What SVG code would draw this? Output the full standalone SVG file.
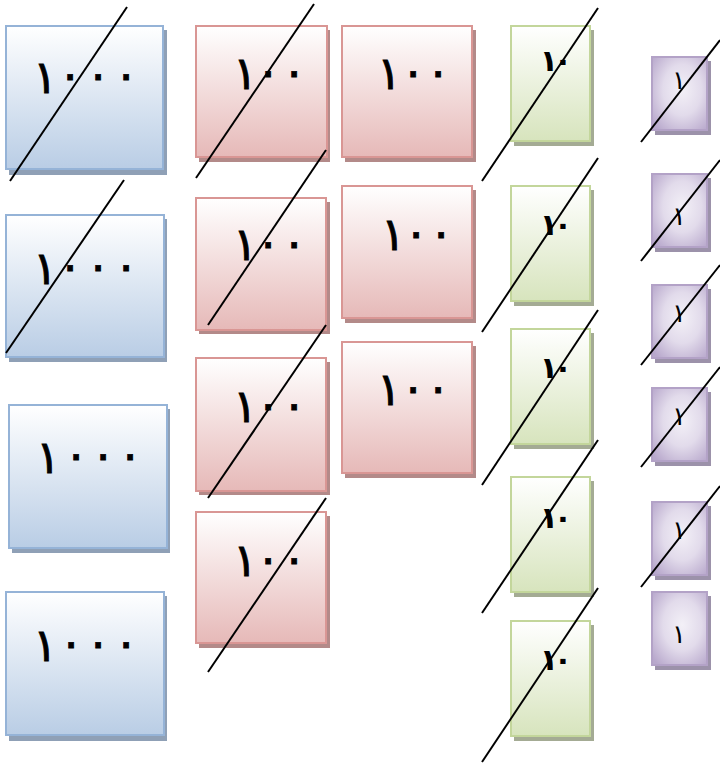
<svg xmlns="http://www.w3.org/2000/svg" width="720" height="765" viewBox="0 0 720 765">
<defs>
<linearGradient id="gB" x1="0" y1="0" x2="0" y2="1"><stop offset="0" stop-color="#ffffff"/><stop offset="1" stop-color="#b9cde5"/></linearGradient>
<linearGradient id="gR" x1="0" y1="0" x2="0" y2="1"><stop offset="0" stop-color="#ffffff"/><stop offset="1" stop-color="#e6b9b8"/></linearGradient>
<linearGradient id="gG" x1="0" y1="0" x2="0" y2="1"><stop offset="0" stop-color="#ffffff"/><stop offset="1" stop-color="#d7e4bd"/></linearGradient>
<radialGradient id="gP" cx="0.55" cy="0.45" r="0.7"><stop offset="0" stop-color="#f3f0f7"/><stop offset="0.5" stop-color="#e2dbeb"/><stop offset="1" stop-color="#b8a8cc"/></radialGradient>
</defs>
<style>
.b{fill:url(#gB);stroke:#95b3d7;stroke-width:2}
.bs{fill:#8fa0b6}
.r{fill:url(#gR);stroke:#d99694;stroke-width:2}
.rs{fill:#b38a89}
.g{fill:url(#gG);stroke:#c3d69b;stroke-width:2}
.gs{fill:#a4ab94}
.p{fill:url(#gP);stroke:#b3a2c7;stroke-width:2}
.ps{fill:#9c92aa}
text{font-family:"DejaVu Sans",sans-serif;fill:#000;text-anchor:middle}
.tb,.tr{font-size:46px;stroke:#000;stroke-width:0.8}
.tg{font-size:30px;font-weight:bold}
.tp{font-size:26px}
.s{stroke:#000;stroke-width:2;fill:none}
</style>
<g id="blue1"><rect class="bs" x="9" y="30" width="158" height="145"/><rect class="b" x="6" y="26" width="157" height="143"/><text class="tb" x="45 70 98 126" y="93 90 90 90">١٠٠٠</text></g>
<g id="blue2"><rect class="bs" x="9" y="219" width="158" height="143"/><rect class="b" x="6" y="215" width="158" height="142"/><text class="tb" x="45 70 98 126" y="284 281 281 281">١٠٠٠</text></g>
<g id="blue3"><rect class="bs" x="12" y="409" width="158" height="144"/><rect class="b" x="9" y="405" width="158" height="143"/><text class="tb" x="48 76 103 130" y="473 470 470 470">١٠٠٠</text></g>
<g id="blue4"><rect class="bs" x="9" y="596" width="158" height="145"/><rect class="b" x="6" y="592" width="158" height="143"/><text class="tb" x="45 71 98 126" y="661 658 658 658">١٠٠٠</text></g>
<g id="red1"><rect class="rs" x="199" y="30" width="131" height="132"/><rect class="r" x="196" y="26" width="131" height="131"/><text class="tr" x="245 268 294" y="89 87 87">١٠٠</text></g>
<g id="red2"><rect class="rs" x="199" y="202" width="131" height="132"/><rect class="r" x="196" y="198" width="130" height="132"/><text class="tr" x="245 268 294" y="260 258 258">١٠٠</text></g>
<g id="red3"><rect class="rs" x="199" y="362" width="131" height="133"/><rect class="r" x="196" y="358" width="130" height="133"/><text class="tr" x="245 268 294" y="422 420 420">١٠٠</text></g>
<g id="red4"><rect class="rs" x="199" y="516" width="131" height="132"/><rect class="r" x="196" y="512" width="130" height="131"/><text class="tr" x="245 268 294" y="576 574 574">١٠٠</text></g>
<g id="red5"><rect class="rs" x="345" y="30" width="131" height="132"/><rect class="r" x="342" y="26" width="130" height="131"/><text class="tr" x="389 413 438" y="89 87 87">١٠٠</text></g>
<g id="red6"><rect class="rs" x="345" y="190" width="131" height="133"/><rect class="r" x="342" y="186" width="130" height="132"/><text class="tr" x="393 416 441" y="250 248 248">١٠٠</text></g>
<g id="red7"><rect class="rs" x="345" y="346" width="131" height="132"/><rect class="r" x="342" y="342" width="130" height="131"/><text class="tr" x="389 413 438" y="405 403 403">١٠٠</text></g>
<g id="green1"><rect class="gs" x="514" y="30" width="80" height="116"/><rect class="g" x="511" y="26" width="79" height="115"/><text class="tg" x="549 563" y="71">١٠</text></g>
<g id="green2"><rect class="gs" x="514" y="190" width="80" height="116"/><rect class="g" x="511" y="186" width="79" height="115"/><text class="tg" x="549 563" y="235">١٠</text></g>
<g id="green3"><rect class="gs" x="514" y="333" width="80" height="116"/><rect class="g" x="511" y="329" width="79" height="115"/><text class="tg" x="549 563" y="378">١٠</text></g>
<g id="green4"><rect class="gs" x="514" y="481" width="80" height="116"/><rect class="g" x="511" y="477" width="79" height="115"/><text class="tg" x="549 563" y="528">١٠</text></g>
<g id="green5"><rect class="gs" x="514" y="625" width="80" height="116"/><rect class="g" x="511" y="621" width="79" height="115"/><text class="tg" x="549 563" y="670">١٠</text></g>
<g id="purple1"><rect class="ps" x="655" y="61" width="56" height="74"/><rect class="p" x="652" y="57" width="55" height="73"/><text class="tp" x="679" y="89">١</text></g>
<g id="purple2"><rect class="ps" x="655" y="178" width="56" height="74"/><rect class="p" x="652" y="174" width="55" height="73"/><text class="tp" x="679" y="225">١</text></g>
<g id="purple3"><rect class="ps" x="655" y="289" width="56" height="74"/><rect class="p" x="652" y="285" width="55" height="73"/><text class="tp" x="679" y="322">١</text></g>
<g id="purple4"><rect class="ps" x="655" y="392" width="56" height="74"/><rect class="p" x="652" y="388" width="55" height="73"/><text class="tp" x="679" y="425">١</text></g>
<g id="purple5"><rect class="ps" x="655" y="506" width="56" height="74"/><rect class="p" x="652" y="502" width="55" height="73"/><text class="tp" x="679" y="539">١</text></g>
<g id="purple6"><rect class="ps" x="655" y="596" width="56" height="74"/><rect class="p" x="652" y="592" width="55" height="73"/><text class="tp" x="679" y="643">١</text></g>
<g id="strikes">
<line class="s" x1="127" y1="7" x2="10" y2="181"/>
<line class="s" x1="124" y1="180" x2="6" y2="353"/>
<line class="s" x1="314" y1="4" x2="196" y2="178"/>
<line class="s" x1="326" y1="150" x2="208" y2="325"/>
<line class="s" x1="326" y1="325" x2="208" y2="498"/>
<line class="s" x1="326" y1="498" x2="208" y2="672"/>
<line class="s" x1="598" y1="8" x2="482" y2="181"/>
<line class="s" x1="598" y1="158" x2="482" y2="332"/>
<line class="s" x1="598" y1="310" x2="482" y2="485"/>
<line class="s" x1="598" y1="440" x2="482" y2="613"/>
<line class="s" x1="598" y1="588" x2="482" y2="762"/>
<line class="s" x1="720" y1="40" x2="641" y2="142"/>
<line class="s" x1="720" y1="160" x2="641" y2="261"/>
<line class="s" x1="720" y1="265" x2="641" y2="365"/>
<line class="s" x1="720" y1="367" x2="641" y2="467"/>
<line class="s" x1="720" y1="486" x2="641" y2="587"/>
</g>
</svg>
